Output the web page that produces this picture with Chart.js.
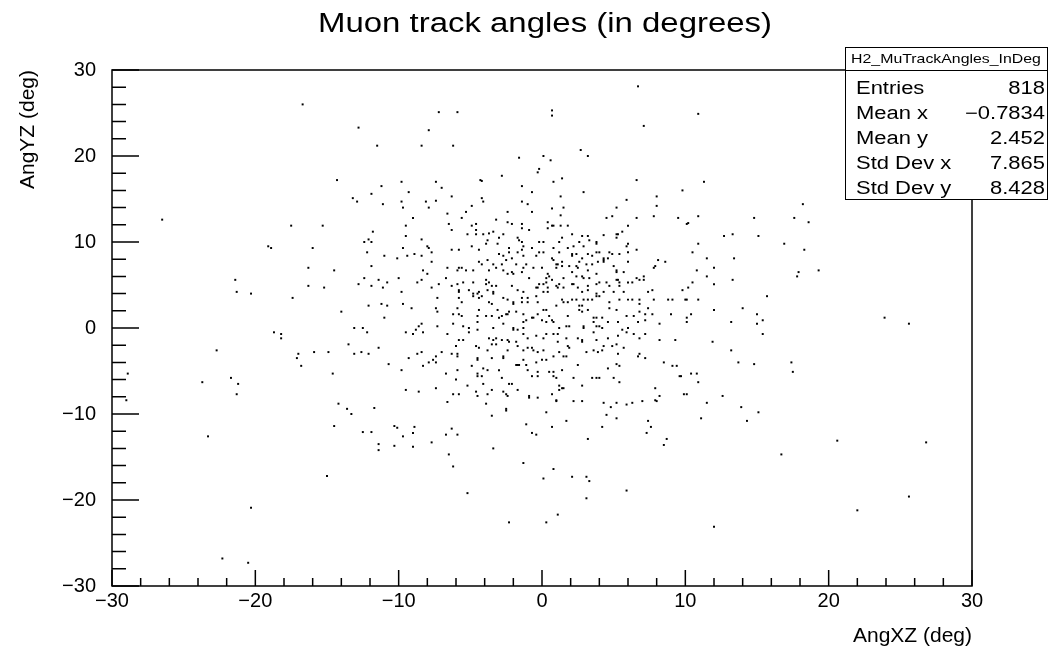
<!DOCTYPE html>
<html>
<head>
<meta charset="utf-8">
<script src="https://cdn.jsdelivr.net/npm/chart.js@4.4.1/dist/chart.umd.min.js"></script>
<style>
  body { margin: 0; background: #fff; }
  canvas { display: block; }
</style>
</head>
<body>
<canvas id="ChartAngles" width="1050" height="652"></canvas>
<script>
// ---------------- data (AngXZ, AngYZ) in degrees ----------------

// sparse tracks away from the core
const haloTracks = [
  [-16.7,26.0],[-12.8,23.3],[-11.5,21.2],[-14.3,17.2],[-11.2,16.5],[-11.9,15.6],[-13.2,15.1],[-12.9,14.7],[-11.1,14.4],[-26.5,12.6],[-17.5,11.9],[-15.3,11.9],[-11.8,11.2],[-12.1,10.3],
  [6.7,28.1],[-7.2,25.1],[-5.9,25.1],[0.7,25.3],[0.7,24.7],[-7.9,23.0],[7.1,23.5],[-8.4,21.2],[-6.2,21.2],[2.7,20.7],[3.2,20.0],[-1.6,19.8],[0.1,20.0],[0.6,19.5],[-0.2,18.5],[-0.3,18.1],[-2.8,17.7],[1.4,17.4],[-4.3,17.2],[-4.2,17.1],[0.8,17.0],[6.6,17.2],[-9.8,17.0],[-7.4,17.0],[-7.0,16.3],[-1.4,16.5],[-9.3,15.8],[-0.7,15.8],[2.9,15.8],[-6.3,15.3],[-4.2,15.1],[1.3,15.3],[8.0,15.3],[5.9,14.9],[-9.8,14.7],[-8.1,14.7],[-7.4,14.8],[-4.1,14.7],[-1.4,14.7],[-1.0,14.4],[-9.7,14.0],[-7.9,14.0],[-4.9,14.2],[0.7,13.9],[1.5,14.0],[5.2,14.0],[8.0,14.2],[-6.6,13.3],[-5.3,13.5],[-2.4,13.5],[-0.7,13.5],[1.3,13.1],[-9.0,12.8],[-5.6,12.8],[4.5,12.8],[4.9,13.0],[6.6,12.8],[7.8,13.0],[9.5,12.8],[-9.5,11.9],[-6.5,12.1],[-4.9,11.9],[-4.6,12.1],[-3.2,12.6],[-2.4,12.3],[-2.1,12.1],[-1.4,12.1],[-1.4,11.6],[0.4,12.3],[0.7,11.9],[0.8,11.9],[1.3,11.9],[1.8,11.9],[6.0,11.9],[-6.3,11.4],[-4.6,11.4],[-0.9,11.4],[0.4,11.6],[-9.5,10.7],[-5.2,10.9],[-4.6,10.9],[-4.1,10.9],[-3.7,11.0],[-3.4,11.2],[-2.7,10.9],[2.1,10.9],[2.8,10.7],[3.2,10.7],[4.3,10.8],[5.2,10.9],[5.3,10.9],[5.6,11.2],[-3.0,10.5],[-1.7,10.5],[1.4,10.5],[5.2,10.5],[-8.4,10.3],
  [10.9,24.9],[11.3,17.0],[9.8,16.0],[18.2,14.4],[10.9,13.0],[14.8,12.8],[17.6,12.8],[18.6,12.3],[10.1,12.1],[10.2,12.2],[12.7,10.7],[13.3,10.9],[15.1,10.7],
  [-12.4,10.0],[-11.9,10.0],[-19.1,9.5],[-18.9,9.3],[-16.0,9.3],[-12.2,8.8],[-11.0,8.4],[-10.1,8.1],[-16.3,7.0],[-14.5,6.7],[-11.9,7.2],[-21.4,5.6],[-12.4,5.8],[-11.4,5.6],[-10.0,5.8],[-12.8,5.1],[-10.8,5.3],[-21.3,4.2],[-20.3,4.0],[-16.3,4.9],[-15.2,4.7],[-11.9,4.9],[-11.1,4.7],[-17.4,3.5],[-14.0,1.9],[-12.1,2.6],[-11.2,2.8],[-10.8,2.6],[-11.0,1.2],[-18.7,-0.5],[-18.2,-0.7],[-18.2,-1.2],[-13.1,0.0],[-12.5,0.0],[-12.2,-0.5],[-13.5,-1.9],[-11.4,-2.3],[-22.7,-2.6],[-17.0,-3.0],[-17.1,-3.5],[-15.9,-2.8],[-14.9,-2.8],[-13.1,-3.0],[-12.6,-2.8],[-12.1,-3.0],[-16.8,-4.4],[-10.7,-4.2],[-28.9,-5.3],[-14.6,-5.3],[-23.7,-6.3],[-21.7,-5.8],[-21.2,-6.5],[-21.3,-7.7],[-29.0,-8.4],[-14.2,-8.8],[-13.6,-9.4],[-11.7,-9.3],
  [-13.3,-10.0],[-23.3,-12.6],[-14.5,-11.4],[-12.5,-12.1],[-11.9,-12.1],[-10.3,-11.4],[-10.1,-11.6],[-11.4,-13.5],[-11.4,-14.2],[-10.3,-13.7],[-15.0,-17.2],[-20.3,-20.9],[-22.3,-26.8],[-20.5,-27.3],
  [-6.6,-8.6],[-3.9,-8.8],[-2.5,-9.4],[-2.5,-9.6],[-3.5,-10.2],[0.3,-9.8],[1.0,-8.5],[2.2,-8.5],[2.8,-8.5],[4.3,-8.7],[4.8,-9.2],[5.2,-8.7],[5.9,-8.9],[6.3,-8.7],[7.0,-8.5],[8.0,-8.5],[4.5,-10.1],[5.2,-10.5],[-9.7,-12.6],[-9.0,-12.2],[-8.9,-11.5],[-9.0,-13.8],[-7.7,-13.3],[-6.7,-12.4],[-6.3,-11.7],[-5.9,-12.4],[-6.5,-14.7],[-6.2,-16.1],[-5.2,-19.2],[-3.4,-14.0],[-1.1,-11.2],[-0.7,-12.2],[-0.4,-12.4],[0.7,-11.5],[1.7,-10.8],[-1.3,-15.7],[0.8,-16.4],[0.1,-17.5],[2.1,-17.3],[3.1,-17.3],[3.3,-17.8],[3.2,-12.9],[4.2,-11.5],[3.1,-19.8],[1.1,-21.7],[-2.3,-22.6],[0.3,-22.6],[5.9,-18.9],[7.4,-10.8],[7.6,-11.5],[7.3,-12.2],[8.7,-12.9],[8.5,-13.6],
  [11.5,-8.7],[13.9,-9.2],[15.1,-9.8],[11.1,-10.5],[14.3,-10.8],[16.7,-14.7],[20.6,-13.1],[26.8,-13.3],[22.0,-21.2],[25.6,-19.6],[12.0,-23.1],
  [10.9,9.8],[16.9,9.8],[10.5,8.8],[11.5,8.1],[13.4,8.1],[18.3,9.1],[10.8,6.7],[12.0,7.0],[11.5,6.0],[17.9,6.5],[17.8,6.0],[19.3,6.7],[10.5,5.3],[12.0,5.1],[13.3,5.6],[9.8,4.4],[10.2,4.7],[9.1,3.3],[10.0,3.3],[10.1,3.3],[10.9,3.3],[15.7,3.7],[9.0,1.6],[10.1,1.2],[10.4,1.6],[10.1,0.7],[12.0,2.1],[14.0,2.3],[13.2,0.7],[15.0,1.6],[15.4,0.9],[15.0,0.5],[15.4,-0.7],[23.9,1.2],[25.6,0.5],[9.3,-1.4],[11.9,-1.6],[13.2,-2.6],[13.7,-4.0],[14.8,-4.2],[17.4,-4.0],[17.5,-5.1],[9.1,-4.4],[9.4,-4.4],[9.7,-5.6],[10.4,-5.3],[10.8,-5.3],[10.9,-6.3],[9.9,-7.7],[10.1,-7.7],[12.6,-7.9]
];

// dense core, |x| < 10 and -8 < y < 10
const coreTracks = [
  [-9.7,9.3],[-8.0,9.5],[-7.9,9.3],[-6.3,9.1],[-5.8,9.1],[-4.9,9.5],[-4.4,9.1],[-3.9,9.8],[-3.8,10.2],[-3.1,9.8],[-2.3,9.3],[-2.3,8.8],[-1.6,10.2],[-1.4,10.0],[-1.3,9.5],[-1.4,9.1],[-0.7,9.3],[-0.2,10.0],[0.1,10.0],[0.8,9.3],[1.2,10.0],[1.8,9.3],[2.2,9.5],[2.6,10.0],[2.9,9.5],[3.3,10.2],[3.8,10.0],[3.8,9.8],[4.0,8.8],[4.7,8.8],[6.0,9.8],[5.9,9.5],[6.6,9.1],
  [-9.4,8.4],[-8.9,8.6],[-8.4,8.4],[-7.7,8.8],[-3.0,8.6],[-2.7,8.4],[-2.1,8.1],[-1.7,8.8],[-1.3,8.4],[-0.4,8.4],[-0.2,8.8],[0.1,8.8],[0.7,8.1],[1.2,8.8],[2.1,8.6],[2.1,8.4],[2.4,8.6],[2.8,8.1],[3.2,8.6],[3.5,8.4],[3.8,8.8],[4.3,8.1],[4.6,8.1],[4.9,8.6],[5.4,8.6],[6.0,8.8],
  [-7.7,7.7],[-4.4,7.7],[-4.2,7.4],[-3.8,7.9],[-3.4,7.4],[-2.8,7.4],[-2.5,7.9],[-1.8,7.4],[-1.1,7.4],[0.8,7.9],[1.0,7.4],[1.1,7.4],[1.4,7.7],[1.4,7.2],[1.9,7.2],[2.4,7.2],[2.6,7.7],[3.1,7.4],[3.5,7.4],[3.9,7.7],[4.3,7.9],[4.3,7.7],[5.0,7.2],[6.0,7.7],[8.1,7.9],[8.6,7.7],[7.9,7.2],[7.8,7.0],
  [-8.3,6.7],[-8.0,6.3],[-6.6,7.0],[-5.9,6.7],[-5.8,7.0],[-5.6,7.0],[-5.3,6.7],[-4.8,6.7],[-3.7,6.7],[-3.2,7.0],[-2.7,6.7],[-2.1,6.5],[-1.4,6.5],[-1.3,7.0],[-0.6,7.0],[0.0,7.0],[1.0,7.0],[2.1,6.5],[2.5,7.0],[3.2,6.7],[3.8,6.3],[5.2,6.7],[5.2,6.5],[5.7,6.5],
  [-8.7,5.3],[-8.4,5.6],[-7.2,5.1],[-6.7,5.8],[-5.9,5.1],[-5.5,5.3],[-4.8,5.3],[-3.9,5.6],[-3.9,5.1],[-3.7,5.3],[-3.5,4.9],[-3.2,4.9],[-2.4,6.3],[-2.0,6.3],[-0.9,5.8],[-0.2,5.1],[0.1,5.1],[0.4,6.3],[0.5,6.0],[0.3,5.8],[0.3,5.3],[0.7,5.6],[1.2,5.1],[1.5,5.8],[2.2,5.1],[2.4,6.0],[2.8,6.0],[2.9,5.8],[3.3,5.8],[3.8,5.1],[4.0,5.3],[4.5,5.3],[5.2,5.6],[5.3,5.6],[5.4,5.3],[6.0,5.3],[6.3,5.3],[6.6,5.8],[6.8,5.6],[7.1,5.6],[7.1,6.0],
  [-9.8,4.2],[-7.7,4.7],[-6.3,4.9],[-5.8,4.4],[-5.8,4.2],[-5.1,4.4],[-4.8,4.0],[-4.8,3.7],[-4.5,4.0],[-4.4,4.2],[-4.2,3.7],[-3.8,4.4],[-3.4,4.2],[-3.4,4.0],[-2.1,4.9],[-1.7,4.4],[-1.3,4.2],[-0.4,4.7],[-0.3,4.7],[0.1,4.2],[0.4,4.7],[0.4,4.2],[1.0,4.9],[1.1,4.7],[1.5,4.7],[2.1,5.1],[2.5,4.7],[2.8,4.2],[3.2,4.9],[3.2,4.4],[3.8,4.0],[3.8,3.7],[4.0,3.7],[4.3,4.2],[4.7,4.9],[5.0,4.2],[5.4,4.9],[5.7,4.2],[7.4,4.2],[7.7,4.4],
  [-9.7,2.8],[-9.1,2.3],[-7.3,3.5],[-5.8,3.5],[-5.6,3.0],[-4.4,3.5],[-3.7,3.0],[-3.5,2.8],[-2.7,3.5],[-2.4,3.3],[-2.0,3.0],[-2.0,2.8],[-1.4,3.5],[-1.4,3.0],[-1.0,3.5],[-1.0,3.0],[-0.4,3.7],[-0.3,3.0],[1.0,2.6],[1.4,3.3],[1.5,3.0],[1.8,3.0],[2.1,3.3],[2.4,3.3],[2.6,2.6],[2.8,2.6],[2.9,3.3],[3.2,3.3],[3.5,3.3],[4.7,3.0],[5.4,3.3],[6.0,3.3],[6.3,3.3],[6.8,3.3],[6.8,2.8],[7.8,3.3],[8.8,3.3],
  [-7.4,2.3],[-7.3,1.9],[-6.2,1.6],[-5.9,2.3],[-5.8,1.6],[-5.6,1.4],[-4.5,1.4],[-4.4,2.1],[-3.9,1.4],[-3.5,1.4],[-3.1,2.1],[-3.0,1.2],[-2.8,1.4],[-2.5,1.6],[-2.4,1.6],[-2.3,1.9],[-1.8,1.9],[-1.3,1.6],[-1.1,0.9],[-0.7,1.2],[-0.3,1.6],[0.1,2.1],[0.3,2.1],[0.5,1.4],[1.8,1.4],[2.6,2.1],[2.8,1.9],[3.2,2.1],[3.6,1.2],[3.8,1.2],[4.2,1.2],[4.7,2.3],[5.2,2.1],[5.9,1.4],[6.4,1.4],[6.8,1.9],[7.2,1.6],[7.4,2.3],[7.7,1.6],
  [-8.6,0.2],[-8.4,0.5],[-8.8,-0.2],[-7.3,0.2],[-6.2,0.5],[-5.5,0.2],[-5.1,0.0],[-5.1,-0.5],[-4.5,-0.2],[-4.5,0.7],[-3.4,0.0],[-2.7,0.5],[-2.0,0.0],[-2.0,-0.2],[-1.7,-0.2],[-1.3,0.7],[-1.3,0.0],[-0.6,1.2],[0.0,0.9],[0.3,0.7],[0.7,0.9],[0.8,0.7],[1.2,0.0],[1.7,0.2],[1.9,0.2],[2.9,0.2],[2.9,0.0],[3.6,0.7],[3.8,0.2],[4.0,0.2],[4.2,0.0],[4.6,0.7],[5.3,0.7],[5.6,-0.2],[6.0,0.0],[6.7,0.7],[7.2,0.9],[8.2,0.5],
  [-9.5,-0.5],[-9.0,-0.7],[-8.3,-0.5],[-6.6,-0.7],[-5.8,-1.4],[-5.5,-1.4],[-3.7,-1.2],[-3.4,-1.4],[-3.2,-1.2],[-2.8,-1.4],[-2.4,-1.4],[-2.3,-1.6],[-1.8,-1.6],[-1.3,-0.7],[-1.0,-1.2],[-0.4,-0.9],[0.1,-1.2],[0.3,-0.7],[0.8,-0.7],[1.1,-0.7],[1.1,-1.6],[1.7,-1.2],[2.5,-1.2],[2.8,-1.4],[2.8,-1.6],[3.6,-0.5],[3.8,-1.4],[4.6,-1.2],[5.3,-0.9],[5.9,-0.5],[6.4,-0.7],[6.8,-1.2],[7.2,-0.7],[8.2,-1.4],
  [-6.0,-2.1],[-4.6,-2.1],[-4.4,-2.3],[-3.8,-2.6],[-3.5,-1.9],[-3.2,-1.9],[-2.4,-2.6],[-1.7,-2.1],[-1.3,-2.6],[-1.0,-2.3],[-0.7,-2.3],[-0.6,-2.6],[-0.3,-2.8],[0.1,-2.6],[1.2,-2.8],[1.8,-2.1],[1.9,-2.3],[3.1,-2.8],[3.6,-2.6],[3.9,-2.8],[4.3,-2.1],[4.2,-2.6],[4.9,-2.1],[5.2,-1.9],[5.7,-2.3],[5.3,-3.0],[6.8,-3.0],[6.7,-3.3],[7.2,-3.5],[-9.3,-3.5],[-8.7,-3.0],[-8.4,-2.8],[-7.4,-3.3],[-7.6,-3.7],[-7.0,-2.8],[-6.3,-3.0],[-5.9,-3.0],[-5.9,-3.3],[-4.5,-3.5],[-4.5,-3.7],[-3.5,-3.5],[-2.7,-3.3],[-2.7,-3.5],[-1.3,-3.7],[0.8,-3.3],[1.5,-3.3],[1.7,-3.3],
  [-9.8,-4.9],[-8.3,-4.4],[-7.9,-4.0],[-7.4,-4.0],[-6.7,-5.3],[-5.9,-4.9],[-4.9,-4.4],[-4.1,-4.7],[-3.8,-4.9],[-3.0,-4.9],[-1.8,-4.3],[-1.7,-4.3],[-1.6,-4.3],[-1.1,-4.3],[-1.0,-4.9],[-0.4,-4.0],[0.0,-3.7],[0.3,-3.7],[0.5,-5.1],[0.8,-5.1],[1.4,-4.9],[2.5,-4.3],[4.6,-4.7],[5.2,-4.2],[5.4,-4.4],[8.5,-4.0],
  [-6.0,-6.0],[-5.2,-6.7],[-4.5,-5.3],[-4.5,-5.6],[-4.2,-5.6],[-2.8,-5.8],[-2.3,-6.5],[-2.1,-6.5],[-0.7,-5.6],[-0.3,-5.1],[-0.3,-5.6],[0.8,-5.6],[1.0,-5.8],[2.2,-5.8],[2.8,-6.7],[3.5,-5.8],[3.8,-5.8],[4.0,-5.8],[5.0,-5.8],[5.4,-6.3],[9.6,-5.6],[-7.4,-7.0],[-9.5,-7.2],[-8.6,-7.4],
  [-6.2,-7.7],[-5.8,-7.7],[-4.6,-7.4],[-4.5,-7.9],[-4.1,-6.5],[-3.8,-7.7],[-3.5,-7.2],[-2.7,-7.4],[-2.5,-7.7],[-2.4,-7.9],[-1.7,-7.2],[-0.9,-7.9],[-0.9,-8.1],[-0.3,-8.1],[0.7,-7.7],[1.0,-8.4],[1.2,-6.7],[1.4,-7.0],[1.5,-7.0],[1.2,-7.2],[7.9,-7.0],[8.2,-7.9],[7.9,-8.4]
];

const axisMin = -30;
const axisMax = 30;
const tickStep = 2;
const labelEvery = 10;

const chartTitle = 'Muon track angles (in degrees)';
const statsTitle = 'H2_MuTrackAngles_InDeg';
const statsLabels = ['Entries', 'Mean x', 'Mean y', 'Std Dev x', 'Std Dev y'];
const statsValues = ['818', '\u22120.7834', '2.452', '7.865', '8.428'];

const FONT = '"Liberation Sans", Arial, Helvetica, sans-serif';
const STRETCH = 1.22;   // the ROOT picture is a bit wider than tall

// ---------------- helpers ------------------------
function tickLabel(v) {
    if (v % labelEvery !== 0) return '';
    return v < 0 ? '\u2212' + Math.abs(v) : String(v);
}

// ROOT style frame with inner tick marks
const rootFrame = {
    id: 'rootFrame',
    afterDatasetsDraw(chart) {
        const { ctx, chartArea: a, scales: { x, y } } = chart;
        ctx.save();
        ctx.strokeStyle = '#000';
        ctx.lineWidth = 1.5;
        ctx.strokeRect(a.left, a.top, a.right - a.left, a.bottom - a.top);
        ctx.beginPath();
        x.ticks.forEach(t => {
            const px = x.getPixelForValue(t.value);
            const len = t.value % labelEvery === 0 ? 16 : 8;
            ctx.moveTo(px, a.bottom);
            ctx.lineTo(px, a.bottom - len);
        });
        y.ticks.forEach(t => {
            const py = y.getPixelForValue(t.value);
            const len = t.value % labelEvery === 0 ? 27 : 14;
            ctx.moveTo(a.left, py);
            ctx.lineTo(a.left + len, py);
        });
        ctx.stroke();
        ctx.restore();
    }
};

// pad title + statistics box (top right)
const statsBox = {
    id: 'statsBox',
    afterDraw(chart) {
        const ctx = chart.ctx;
        const bx = 845, by = 47, bw = 202, bh = 152, hh = 23;
        ctx.save();
        ctx.fillStyle = '#fff';
        ctx.fillRect(bx, by, bw, bh);
        ctx.strokeStyle = '#000';
        ctx.lineWidth = 1;
        ctx.strokeRect(bx + 0.5, by + 0.5, bw, bh);
        ctx.beginPath();
        ctx.moveTo(bx, by + hh + 0.5);
        ctx.lineTo(bx + bw, by + hh + 0.5);
        ctx.stroke();

        ctx.fillStyle = '#000';
        ctx.textBaseline = 'middle';
        ctx.scale(STRETCH, 1);

        ctx.font = '27px ' + FONT;
        ctx.textAlign = 'center';
        ctx.fillText(chartTitle, 545 / STRETCH, 25);

        ctx.font = '13px ' + FONT;
        ctx.fillText(statsTitle, (bx + bw / 2) / STRETCH, by + hh / 2 + 1);

        ctx.font = '18px ' + FONT;
        statsLabels.forEach((lab, i) => {
            const ty = 89 + i * 25;
            ctx.textAlign = 'left';
            ctx.fillText(lab, 856 / STRETCH, ty);
            ctx.textAlign = 'right';
            ctx.fillText(statsValues[i], 1045 / STRETCH, ty);
        });
        ctx.restore();
    }
};

// ---------------- chart ------------------------
const grafico = document.getElementById('ChartAngles');

new Chart(grafico, {
    type: 'scatter',
    data: {
        datasets: [{
            label: statsTitle,
            data: haloTracks.concat(coreTracks).map(([x, y]) => ({ x, y })),
            pointStyle: 'rect',
            pointRadius: 1.4,
            pointBorderWidth: 0,
            backgroundColor: '#000',
            borderColor: '#000'
        }]
    },
    options: {
        responsive: false,
        animation: false,
        events: [],
        layout: {
            padding: { left: 0, right: 78, top: 70, bottom: 0 }
        },
        scales: {
            x: {
                type: 'linear',
                min: axisMin,
                max: axisMax,
                afterFit(scale) { scale.height = 66; },
                ticks: {
                    stepSize: tickStep,
                    autoSkip: false,
                    maxRotation: 0,
                    padding: 3,
                    color: '#000',
                    font: { family: FONT, size: 20 },
                    callback: tickLabel
                },
                grid: { display: false, drawTicks: false, tickLength: 0 },
                border: { display: false },
                title: {
                    display: true,
                    text: 'AngXZ (deg)',
                    align: 'end',
                    color: '#000',
                    font: { family: FONT, size: 21 },
                    padding: { top: 0, bottom: 3 }
                }
            },
            y: {
                type: 'linear',
                min: axisMin,
                max: axisMax,
                afterFit(scale) { scale.width = 112; },
                ticks: {
                    stepSize: tickStep,
                    autoSkip: false,
                    padding: 16,
                    color: '#000',
                    font: { family: FONT, size: 20 },
                    callback: tickLabel
                },
                grid: { display: false, drawTicks: false, tickLength: 0 },
                border: { display: false },
                title: {
                    display: true,
                    text: 'AngYZ (deg)',
                    align: 'end',
                    color: '#000',
                    font: { family: FONT, size: 21 },
                    padding: { top: 16, bottom: 0 }
                }
            }
        },
        plugins: {
            legend: { display: false },
            tooltip: { enabled: false },
            title: { display: false }
        }
    },
    plugins: [rootFrame, statsBox]
});
</script>
</body>
</html>
